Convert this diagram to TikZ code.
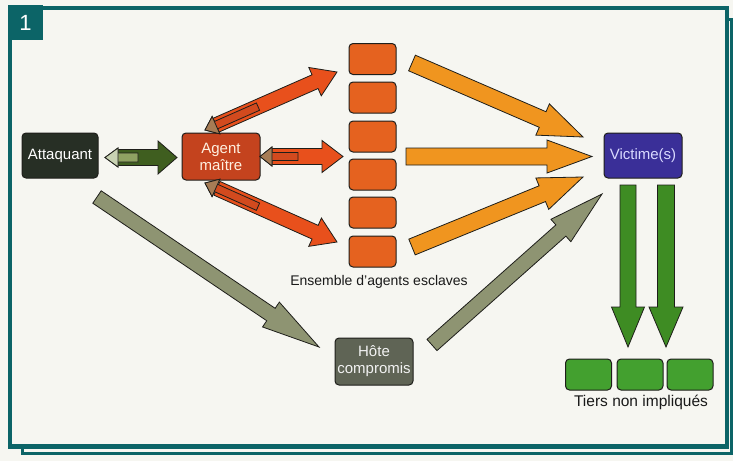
\documentclass[tikz,border=0pt]{standalone}
\usepackage{fontspec}
\setmainfont{Liberation Sans}
\usetikzlibrary{calc}

\definecolor{paper}{HTML}{F6F6F1}
\definecolor{frameteal}{HTML}{0C6467}
\definecolor{attfill}{HTML}{272F25}
\definecolor{agentfill}{HTML}{C4431E}
\definecolor{slavefill}{HTML}{E5621F}
\definecolor{redarrow}{HTML}{E8501C}
\definecolor{redshaft}{HTML}{D24A1E}
\definecolor{backbrown}{HTML}{A67C55}
\definecolor{orangearrow}{HTML}{F0951F}
\definecolor{vicfill}{HTML}{3A2F98}
\definecolor{greenarrow}{HTML}{3E8C23}
\definecolor{greenbox}{HTML}{43A02F}
\definecolor{olivearrow}{HTML}{8E9472}
\definecolor{hotefill}{HTML}{5F6455}
\definecolor{darkgreen}{HTML}{3F5E1F}
\definecolor{midgreen}{HTML}{8FA262}
\definecolor{palegreen}{HTML}{C8D2B2}
\definecolor{outline}{HTML}{1E1E1A}

% block arrow: style, tail, tip, half shaft width, half head width, head length
\newcommand\fatarrow[6]{%
  \coordinate (fa-base) at ($(#3)!#6!(#2)$);
  \path[arr,#1] ($(#2)!#4!90:(#3)$) -- ($(fa-base)!#4!90:(#3)$)
    -- ($(fa-base)!#5!90:(#3)$) -- (#3) -- ($(fa-base)!#5!-90:(#3)$)
    -- ($(fa-base)!#4!-90:(#3)$) -- ($(#2)!#4!-90:(#3)$) -- cycle;}
% head only: style, tail, tip, half head width, head length
\newcommand\fathead[5]{%
  \coordinate (fh-base) at ($(#3)!#5!(#2)$);
  \path[arr,#1] ($(fh-base)!#4!90:(#3)$) -- (#3)
    -- ($(fh-base)!#4!-90:(#3)$) -- cycle;}

\begin{document}
\begin{tikzpicture}[x=1pt,y=-1pt,
  box/.style={draw=outline, line width=1, rounded corners=4, inner sep=0,
    align=center, font=\fontsize{15}{17}\selectfont},
  slave/.style={box, fill=slavefill, minimum width=47, minimum height=31},
  third/.style={box, fill=greenbox, minimum width=46, minimum height=31},
  arr/.style={draw=outline, line width=0.8, line join=miter},
  caption/.style={inner sep=0, text=black!90, font=\fontsize{14.5}{17}\selectfont}]
\useasboundingbox (0,0) rectangle (733,461);
\fill[paper] (0,0) rectangle (733,461);

% frame of the panel behind, then the panel itself
\draw[frameteal, line width=3] (22,19) rectangle (731.5,453.5);
\draw[frameteal, line width=4.5, fill=paper] (10,8) rectangle (727,446.5);
\node[fill=frameteal, minimum width=35, minimum height=35, inner sep=0,
  text=white, font=\fontsize{22}{22}\selectfont] (num) at (25.5,22.5) {1};

% nodes
\node[box, fill=attfill, text=white, minimum width=76, minimum height=45] (att) at (60,155.5) {Attaquant};
\node[box, fill=agentfill, text=white!88!orange, minimum width=78, minimum height=47] (agent) at (221,156.5) {Agent\\maître};
\node[slave] (s1) at (372.5,59) {};
\node[slave] (s2) at (372.5,97.5) {};
\node[slave] (s3) at (372.5,136.5) {};
\node[slave] (s4) at (372.5,174.5) {};
\node[slave] (s5) at (372.5,212.5) {};
\node[slave] (s6) at (372.5,251.5) {};
\node[caption, font=\fontsize{14}{17}\selectfont] (ens) at (379,282) {Ensemble d’agents esclaves};
\node[box, fill=vicfill, text=white!85!blue, minimum width=78, minimum height=45] (vic) at (643,155.5) {Victime(s)};
\node[box, fill=hotefill, text=white!90!gray, minimum width=78, minimum height=47] (hote) at (374,361.5) {Hôte\\compromis};
\node[third] (t1) at (588.5,374.5) {};
\node[third] (t2) at (640,374.5) {};
\node[third] (t3) at (690,374.5) {};
\node[caption, font=\fontsize{15.5}{17}\selectfont] (tiers) at (641,402) {Tiers non impliqués};

% arrow end points
\coordinate (am-a) at (118,157.5);   \coordinate (am-b) at (177,157.5);
\coordinate (ma-a) at (138,157.5);   \coordinate (ma-b) at (105,157.5);
\coordinate (u-a) at (216,125.2);    \coordinate (u-b) at (337,72);
\coordinate (ub-a) at (258,106.6);   \coordinate (ub-b) at (205,130);
\coordinate (m-a) at (272,156.5);    \coordinate (m-b) at (343,156.5);
\coordinate (mb-a) at (298,156.5);   \coordinate (mb-b) at (260,156.5);
\coordinate (l-a) at (216.9,188.3);  \coordinate (l-b) at (337,242);
\coordinate (lb-a) at (258,206.7);   \coordinate (lb-b) at (205,183);
\coordinate (o1-a) at (412,63);      \coordinate (o1-b) at (583,137);
\coordinate (o2-a) at (406,156.5);   \coordinate (o2-b) at (592,156.5);
\coordinate (o3-a) at (412,247);     \coordinate (o3-b) at (583,177);
\coordinate (h1-a) at (97,197);      \coordinate (h1-b) at (319,347);
\coordinate (h2-a) at (432,345);     \coordinate (h2-b) at (602,194);
\coordinate (g1-a) at (628,185);     \coordinate (g1-b) at (628,347);
\coordinate (g2-a) at (666,185);     \coordinate (g2-b) at (666,347);

% attacker <-> master agent
\fatarrow{fill=darkgreen}{am-a}{am-b}{8pt}{16.5pt}{19pt}
\fatarrow{fill=midgreen}{ma-a}{ma-b}{4.5pt}{9.5pt}{13pt}
\fathead{fill=palegreen}{ma-a}{ma-b}{9.5pt}{13pt}

% master agent <-> slave agents
\fatarrow{fill=redarrow}{u-a}{u-b}{7.5pt}{15.5pt}{24pt}
\fatarrow{fill=redshaft}{ub-a}{ub-b}{4pt}{9.5pt}{12pt}
\fathead{fill=backbrown}{ub-a}{ub-b}{9.5pt}{12pt}
\fatarrow{fill=redarrow}{m-a}{m-b}{8pt}{16pt}{21pt}
\fatarrow{fill=redshaft}{mb-a}{mb-b}{4pt}{9.5pt}{12pt}
\fathead{fill=backbrown}{mb-a}{mb-b}{9.5pt}{12pt}
\fatarrow{fill=redarrow}{l-a}{l-b}{7.5pt}{15.5pt}{24pt}
\fatarrow{fill=redshaft}{lb-a}{lb-b}{4pt}{9.5pt}{12pt}
\fathead{fill=backbrown}{lb-a}{lb-b}{9.5pt}{12pt}

% slave agents -> victim
\fatarrow{fill=orangearrow}{o1-a}{o1-b}{8.5pt}{17pt}{44pt}
\fatarrow{fill=orangearrow}{o2-a}{o2-b}{8.5pt}{16.5pt}{45pt}
\fatarrow{fill=orangearrow}{o3-a}{o3-b}{8.5pt}{17pt}{44pt}

% through the compromised host
\fatarrow{fill=olivearrow}{h1-a}{h1-b}{7.5pt}{15pt}{58pt}
\fatarrow{fill=olivearrow}{h2-a}{h2-b}{7.5pt}{15pt}{55pt}

% victim -> uninvolved third parties
\fatarrow{fill=greenarrow}{g1-a}{g1-b}{8pt}{16.5pt}{40pt}
\fatarrow{fill=greenarrow}{g2-a}{g2-b}{8.5pt}{17pt}{40pt}
\end{tikzpicture}
\end{document}
